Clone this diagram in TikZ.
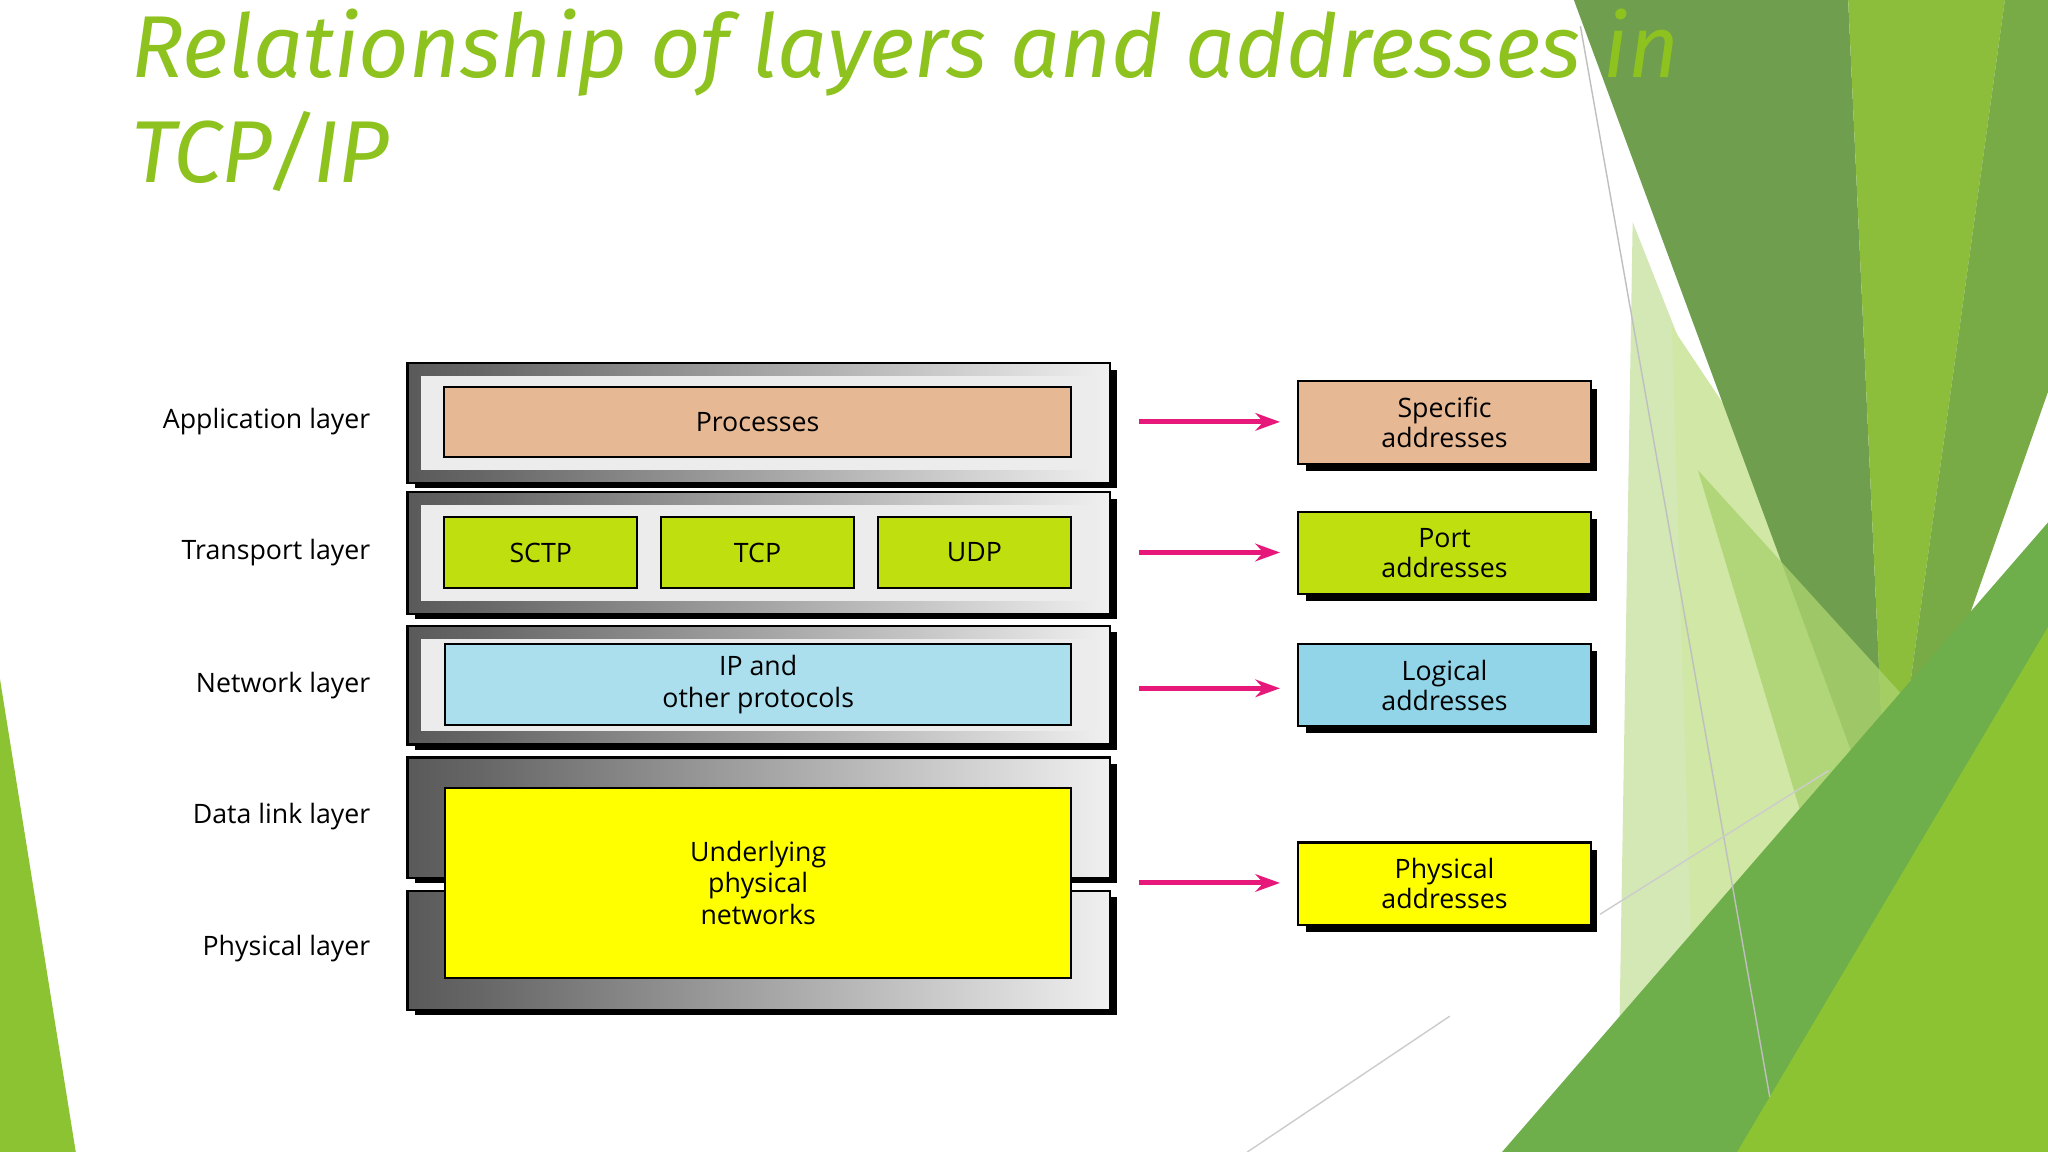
\documentclass[tikz,border=0pt]{standalone}
\usepackage{fontspec}
\setmainfont{Open Sans}
\newfontfamily\titlefont{Fira Sans}
\usetikzlibrary{arrows.meta}
\definecolor{tgreen}{HTML}{8DC21F}
\definecolor{peach}{HTML}{E6B894}
\definecolor{lgreen}{HTML}{BFDF0F}
\definecolor{lblue}{HTML}{ABDFEE}
\definecolor{lblue2}{HTML}{92D5E8}
\definecolor{yel}{HTML}{FFFF00}
\definecolor{mag}{HTML}{E6197A}
\definecolor{bgA}{RGB}{110,158,78}
\definecolor{bgB}{RGB}{140,190,60}
\definecolor{bgC}{RGB}{120,170,70}
\definecolor{bgD}{RGB}{170,210,110}
\definecolor{bgE}{RGB}{110,175,75}
\definecolor{bgF}{RGB}{140,195,50}
\pgfdeclarehorizontalshading{band}{100bp}{color(0bp)=(gray!50); color(4bp)=(black!85); color(30bp)=(gray!80!black); color(55bp)=(gray!60); color(80bp)=(white); color(96bp)=(black!85); color(100bp)=(black)}
\begin{document}
\begin{tikzpicture}[x=0.01306cm,y=-0.01306cm,
  lay/.style={font=\fontsize{7.6}{9}\selectfont, anchor=east},
  inb/.style={draw=black, line width=0.6pt, font=\fontsize{7.6}{9}\selectfont, align=center, inner sep=0pt},
  adr/.style={draw=black, line width=0.6pt, font=\fontsize{7.6}{8.5}\selectfont, align=center, inner sep=0pt, minimum width=224*0.01306cm, minimum height=63*0.01306cm},
  arr/.style={draw=mag, line width=1.4pt, -{Stealth[length=7pt,width=5pt]}}]
\useasboundingbox (0,0) rectangle (1568,882);
\fill[white] (0,0) rectangle (1568,882);
% background decoration
\fill[bgD,opacity=0.5] (1250,170) -- (1420,600) -- (1240,780) -- cycle;
\fill[tgreen!40] (1280,250) -- (1500,580) -- (1220,882) -- (1300,882) -- cycle;
\fill[bgA] (1205,0) -- (1415,0) -- (1445,650) -- cycle;
\fill[bgB] (1415,0) -- (1535,0) -- (1445,650) -- cycle;
\fill[bgC] (1535,0) -- (1568,0) -- (1568,300) -- (1445,650) -- cycle;
\fill[bgD,opacity=0.8] (1300,360) -- (1500,580) -- (1420,760) -- cycle;
\fill[bgE] (1150,882) -- (1568,400) -- (1568,882) -- cycle;
\fill[bgF] (1330,882) -- (1568,480) -- (1568,882) -- cycle;
\fill[bgF] (0,520) -- (58,882) -- (0,882) -- cycle;
\draw[gray!50,line width=0.4pt] (1210,20) -- (1355,840);
\draw[gray!40,line width=0.4pt] (955,882) -- (1110,778);
\draw[gray!40,line width=0.4pt] (1225,700) -- (1400,590);
% title
\node[anchor=base west, font=\titlefont\itshape\fontsize{25}{30}\selectfont, text=tgreen, align=left, inner sep=0pt] (title) at (100,140) {Relationship of layers and addresses in\\TCP/IP};
% frames
\foreach \n/\t/\b in {fa/278/370, ft/377/470, fn/479/570, fd/580/672, fp/682/773}{
  \fill[black] (318,\t+5) rectangle (855,\b+4);
  \shade[shading=band] (312,\t) rectangle (850,\b);
  \draw[black,line width=0.6pt] (312,\t) rectangle (850,\b);
}
\fill[gray!15] (322,288) rectangle (840,360);
\fill[gray!15] (322,387) rectangle (840,460);
\fill[gray!15] (322,489) rectangle (840,560);
% inner boxes
\node[inb, fill=peach, minimum width=480*0.01306cm, minimum height=54*0.01306cm] (proc) at (580,323) {Processes};
\node[inb, fill=lgreen, minimum width=148*0.01306cm, minimum height=54*0.01306cm] (sctp) at (414,423) {SCTP};
\node[inb, fill=lgreen, minimum width=148*0.01306cm, minimum height=54*0.01306cm] (tcp) at (580,423) {TCP};
\node[inb, fill=lgreen, minimum width=148*0.01306cm, minimum height=54*0.01306cm] (udp) at (746,423) {UDP};
\node[inb, fill=lblue, minimum width=479*0.01306cm, minimum height=62*0.01306cm] (ip) at (580.5,524) {IP and\\other protocols};
\node[inb, fill=yel, minimum width=479*0.01306cm, minimum height=146*0.01306cm] (und) at (580.5,676) {Underlying\\physical\\networks};
% layer labels
\node[lay] (la) at (293,323) {Application layer};
\node[lay] (lt) at (293,423) {Transport layer};
\node[lay] (ln) at (293,525) {Network layer};
\node[lay] (ld) at (293,625) {Data link layer};
\node[lay] (lp) at (293,726) {Physical layer};
% address boxes
\foreach \y in {323.5,423.5,524.5,676.5}{\fill[black] (1000,\y-26) rectangle (1223,\y+37);}
\node[adr, fill=peach] (aa) at (1106,323.5) {Specific\\addresses};
\node[adr, fill=lgreen] (at) at (1106,423.5) {Port\\addresses};
\node[adr, fill=lblue2] (an) at (1106,524.5) {Logical\\addresses};
\node[adr, fill=yel] (ap) at (1106,676.5) {Physical\\addresses};
% arrows
\coordinate (s1) at (872,323); \coordinate (s2) at (872,423);
\coordinate (s3) at (872,527); \coordinate (s4) at (872,676);
\coordinate (e1) at (980,323); \coordinate (e2) at (980,423);
\coordinate (e3) at (980,527); \coordinate (e4) at (980,676);
\draw[arr] (s1) -- (e1);
\draw[arr] (s2) -- (e2);
\draw[arr] (s3) -- (e3);
\draw[arr] (s4) -- (e4);
\end{tikzpicture}
\end{document}
